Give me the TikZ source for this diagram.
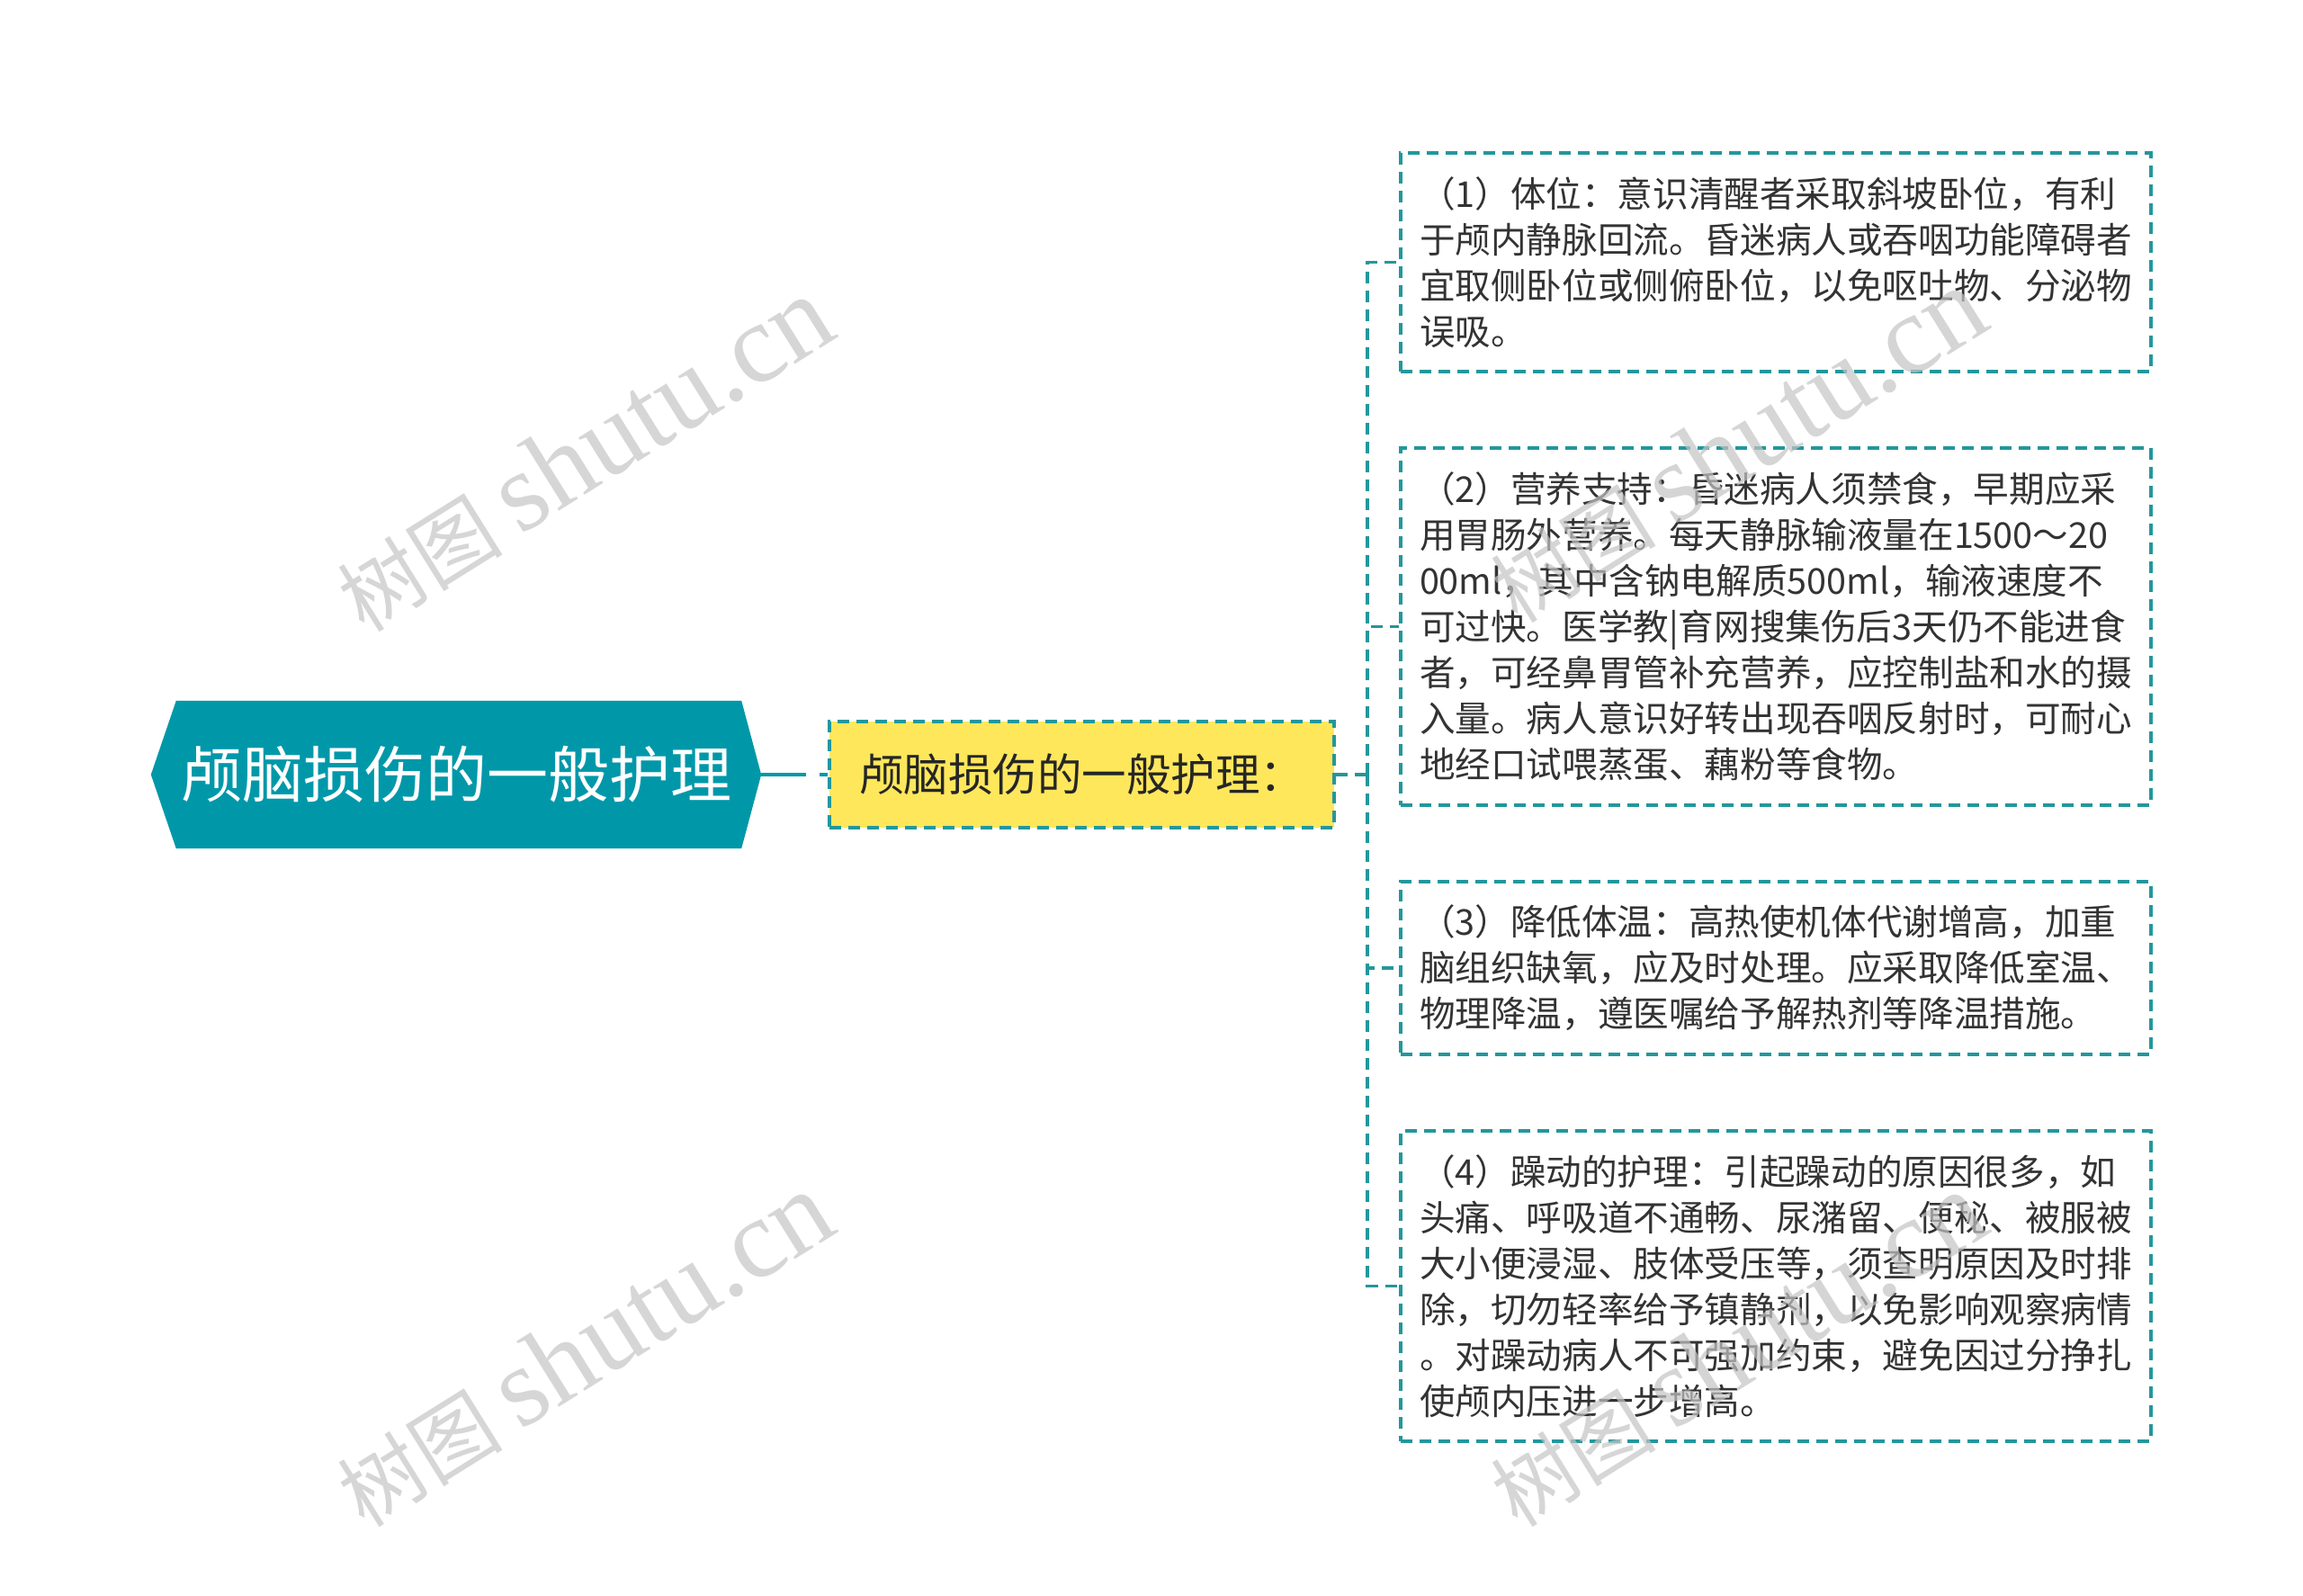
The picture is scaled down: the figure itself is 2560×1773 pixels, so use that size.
\documentclass[tikz,border=0pt]{standalone}
\usepackage{fontspec}
\setmainfont{Noto Sans CJK SC}
\newfontfamily\wmlatin{Liberation Serif}
\usetikzlibrary{backgrounds}
\definecolor{rootteal}{HTML}{0098A9}
\definecolor{lineteal}{HTML}{23979C}
\definecolor{subyellow}{HTML}{FFE75C}
\definecolor{txt}{HTML}{333333}
\definecolor{wmgray}{HTML}{C4C4C4}
\begin{document}
\begin{tikzpicture}[x=1pt,y=-1pt,
  conn/.style={draw=lineteal, line width=3.2pt, dash pattern=on 13pt off 8pt},
  rootbox/.style={minimum width=678pt, minimum height=164pt, inner sep=0pt, text=white, font=\fontsize{68}{80}\selectfont},
  subbox/.style={conn, fill=subyellow, minimum width=561pt, minimum height=118pt, inner sep=0pt, text=black!85, font=\fontsize{49.5}{60}\selectfont},
  leaf/.style={conn, fill=white, text width=792pt, inner xsep=21pt, inner ysep=0pt, align=left, text=txt, font=\fontsize{39.6}{51}\selectfont},
  wm/.style={text=wmgray, opacity=0.7, rotate=32, font=\fontsize{92}{130}\selectfont}
]
\useasboundingbox (0,0) rectangle (2560,1773);

\node[rootbox] (root) at (507,861) {颅脑损伤的一般护理};
\begin{scope}[on background layer]
\fill[rootteal] (root.west) -- ([xshift=28pt]root.north west) -- ([xshift=-22pt]root.north east) -- (root.east) -- ([xshift=-22pt]root.south east) -- ([xshift=28pt]root.south west) -- cycle;
\end{scope}

\node[subbox] (sub) at (1202.5,861) {颅脑损伤的一般护理：};

\node[leaf, minimum height=243pt] (b1) at (1974,291.5) {（1）体位：意识清醒者采取斜坡卧位，有利\\于颅内静脉回流。昏迷病人或吞咽功能障碍者\\宜取侧卧位或侧俯卧位，以免呕吐物、分泌物\\误吸。};
\node[leaf, minimum height=397pt] (b2) at (1974,696.5) {（2）营养支持：昏迷病人须禁食，早期应采\\用胃肠外营养。每天静脉输液量在1500～20\\00ml，其中含钠电解质500ml，输液速度不\\可过快。医学教|育网搜集伤后3天仍不能进食\\者，可经鼻胃管补充营养，应控制盐和水的摄\\入量。病人意识好转出现吞咽反射时，可耐心\\地经口试喂蒸蛋、藕粉等食物。};
\node[leaf, minimum height=192pt] (b3) at (1974,1076) {（3）降低体温：高热使机体代谢增高，加重\\脑组织缺氧，应及时处理。应采取降低室温、\\物理降温，遵医嘱给予解热剂等降温措施。};
\node[leaf, minimum height=345pt] (b4) at (1974,1429.5) {（4）躁动的护理：引起躁动的原因很多，如\\头痛、呼吸道不通畅、尿潴留、便秘、被服被\\大小便浸湿、肢体受压等，须查明原因及时排\\除，切勿轻率给予镇静剂，以免影响观察病情\\。对躁动病人不可强加约束，避免因过分挣扎\\使颅内压进一步增高。};

\coordinate (j) at (1520,861);
\draw[rootteal, line width=4.5pt, dash pattern=on 50pt off 15pt] (root.east) -- (sub.west);
\draw[conn] (sub.east) -- (j);
\draw[conn] (j) |- (b1.west);
\draw[conn] (j) |- (b2.west);
\draw[conn] (j) |- (b3.west);
\draw[conn] (j) |- (b4.west);

\node[wm] (wm1) at (649,505) {树图 {\wmlatin\fontsize{125}{130}\selectfont shutu.cn}};
\node[wm] (wm2) at (649,1500) {树图 {\wmlatin\fontsize{125}{130}\selectfont shutu.cn}};
\node[wm] (wm3) at (1931,495) {树图 {\wmlatin\fontsize{125}{130}\selectfont shutu.cn}};
\node[wm] (wm4) at (1931,1500) {树图 {\wmlatin\fontsize{125}{130}\selectfont shutu.cn}};
\end{tikzpicture}
\end{document}
